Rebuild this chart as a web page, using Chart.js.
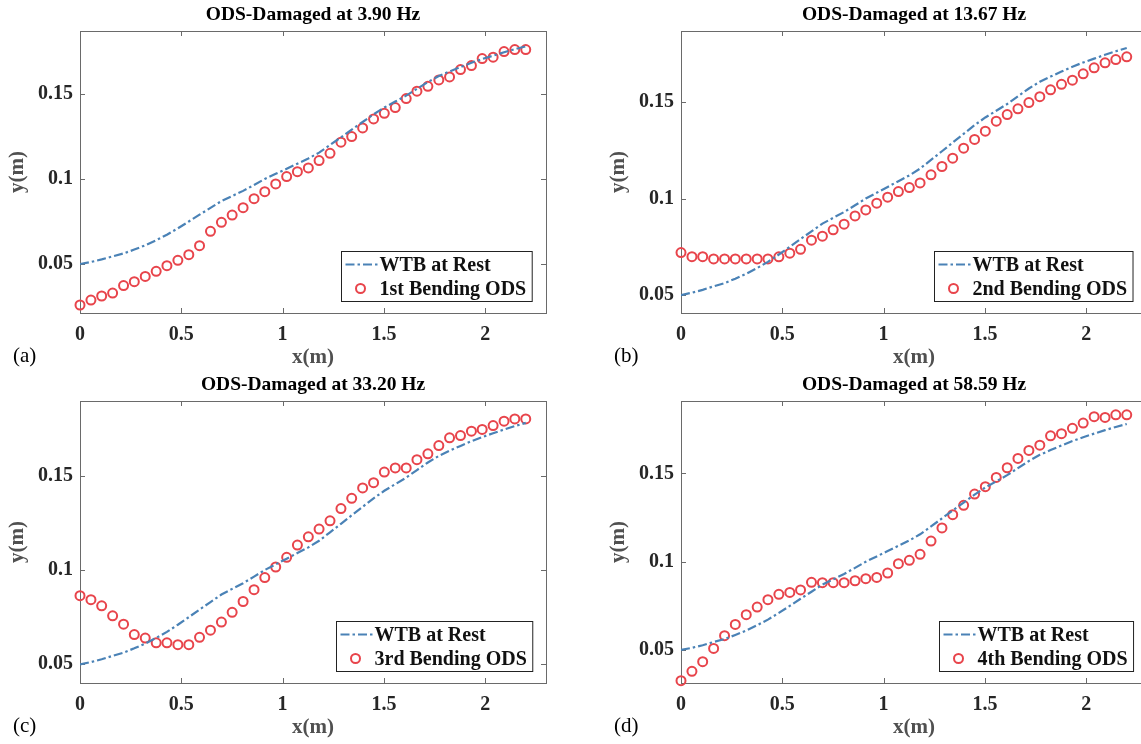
<!DOCTYPE html>
<html>
<head>
<meta charset="utf-8">
<script src="https://cdn.jsdelivr.net/npm/chart.js@4.4.1/dist/chart.umd.min.js"></script>
<style>
  html, body { margin: 0; padding: 0; background: #fff; overflow: hidden; width: 1141px; height: 744px; }
  canvas { position: absolute; }
</style>
</head>
<body>
<canvas id="pa" width="570" height="370" style="left:0;top:0"></canvas>
<canvas id="pb" width="570" height="370" style="left:601px;top:0"></canvas>
<canvas id="pc" width="570" height="370" style="left:0;top:370px"></canvas>
<canvas id="pd" width="570" height="370" style="left:601px;top:370px"></canvas>
<script>
// sensor positions along the blade (m)
const xPos = [0, 0.054, 0.107, 0.161, 0.215, 0.268, 0.322, 0.376, 0.429, 0.483, 0.537, 0.590, 0.644, 0.698,
  0.751, 0.805, 0.859, 0.912, 0.966, 1.020, 1.073, 1.127, 1.180, 1.234, 1.288, 1.341, 1.395, 1.449,
  1.502, 1.556, 1.610, 1.663, 1.717, 1.771, 1.824, 1.878, 1.932, 1.985, 2.039, 2.093, 2.146, 2.200];

const wtbRest = [0.0500, 0.0512, 0.0527, 0.0545, 0.0562, 0.0585, 0.0610, 0.0640, 0.0672, 0.0710, 0.0750, 0.0790,
  0.0830, 0.0870, 0.0900, 0.0930, 0.0965, 0.1000, 0.1030, 0.1060, 0.1090, 0.1120, 0.1155, 0.1200, 0.1245,
  0.1290, 0.1335, 0.1380, 0.1420, 0.1455, 0.1490, 0.1530, 0.1570, 0.1605, 0.1632, 0.1658, 0.1683, 0.1705,
  0.1725, 0.1745, 0.1763, 0.1780];

const odsA = [0.0259, 0.0288, 0.0312, 0.0329, 0.0373, 0.0396, 0.0427, 0.0457, 0.0490, 0.0522, 0.0555, 0.0608,
  0.0692, 0.0745, 0.0788, 0.0831, 0.0884, 0.0925, 0.0971, 0.1014, 0.1043, 0.1065, 0.1108, 0.1151, 0.1216,
  0.1249, 0.1300, 0.1353, 0.1386, 0.1420, 0.1473, 0.1516, 0.1545, 0.1582, 0.1600, 0.1643, 0.1667, 0.1708,
  0.1716, 0.1749, 0.1761, 0.1761];

const odsB = [0.0720, 0.0699, 0.0699, 0.0687, 0.0687, 0.0687, 0.0687, 0.0687, 0.0687, 0.0698, 0.0717, 0.0737,
  0.0784, 0.0805, 0.0838, 0.0867, 0.0910, 0.0941, 0.0976, 0.1007, 0.1036, 0.1057, 0.1081, 0.1123, 0.1166,
  0.1209, 0.1261, 0.1306, 0.1349, 0.1401, 0.1435, 0.1465, 0.1497, 0.1528, 0.1563, 0.1592, 0.1613, 0.1646,
  0.1677, 0.1703, 0.1720, 0.1734];

const odsC = [0.0864, 0.0843, 0.0810, 0.0757, 0.0713, 0.0658, 0.0639, 0.0614, 0.0614, 0.0604, 0.0604, 0.0643,
  0.0681, 0.0724, 0.0776, 0.0833, 0.0896, 0.0960, 0.1016, 0.1067, 0.1132, 0.1176, 0.1217, 0.1261, 0.1326,
  0.1380, 0.1435, 0.1463, 0.1519, 0.1541, 0.1541, 0.1585, 0.1616, 0.1660, 0.1701, 0.1713, 0.1736, 0.1745,
  0.1766, 0.1789, 0.1801, 0.1801];

const odsD = [0.0326, 0.0379, 0.0434, 0.0509, 0.0581, 0.0645, 0.0700, 0.0743, 0.0785, 0.0815, 0.0826, 0.0840,
  0.0883, 0.0881, 0.0881, 0.0881, 0.0892, 0.0904, 0.0911, 0.0936, 0.0989, 0.1008, 0.1042, 0.1117, 0.1191,
  0.1266, 0.1319, 0.1383, 0.1425, 0.1477, 0.1532, 0.1585, 0.1630, 0.1660, 0.1713, 0.1725, 0.1755, 0.1785,
  0.1821, 0.1817, 0.1832, 0.1832];

const titles = ["ODS-Damaged at 3.90 Hz", "ODS-Damaged at 13.67 Hz", "ODS-Damaged at 33.20 Hz", "ODS-Damaged at 58.59 Hz"];
const odsLabels = ["1st Bending ODS", "2nd Bending ODS", "3rd Bending ODS", "4th Bending ODS"];
const panelTags = ["(a)", "(b)", "(c)", "(d)"];
const yMins = [0.0212, 0.0407, 0.0401, 0.0313];
const yMaxs = [0.187, 0.1868, 0.1896, 0.191];
const xTicks = [0, 0.5, 1, 1.5, 2];
const xTickLabels = ["0", "0.5", "1", "1.5", "2"];
const yTicks = [0.05, 0.1, 0.15];
const yTickLabels = ["0.05", "0.1", "0.15"];
const restLabel = "WTB at Rest";

const SERIF = '"Liberation Serif", "Times New Roman", serif';
const BLUE = "#4a82b6";
const RED = "#e8444b";
const DASH = [9, 3, 2.5, 3];

// box + inward ticks like matlab
const framePlugin = {
  id: "frame",
  beforeDatasetsDraw(chart) {
    const { ctx, chartArea: ca, scales } = chart;
    ctx.save();
    ctx.strokeStyle = "#6a6a6a";
    ctx.lineWidth = 1;
    ctx.strokeRect(Math.round(ca.left) + 0.5, Math.round(ca.top) + 0.5,
      Math.round(ca.right - ca.left), Math.round(ca.bottom - ca.top));
    ctx.beginPath();
    xTicks.forEach(v => {
      const px = Math.round(scales.x.getPixelForValue(v)) + 0.5;
      ctx.moveTo(px, ca.bottom); ctx.lineTo(px, ca.bottom - 5);
      ctx.moveTo(px, ca.top); ctx.lineTo(px, ca.top + 5);
    });
    yTicks.forEach(v => {
      const py = Math.round(scales.y.getPixelForValue(v)) + 0.5;
      ctx.moveTo(ca.left, py); ctx.lineTo(ca.left + 5, py);
      ctx.moveTo(ca.right, py); ctx.lineTo(ca.right - 5, py);
    });
    ctx.stroke();
    ctx.restore();
  }
};

// title, panel tag and in-axes legend
const decorPlugin = {
  id: "decor",
  afterDraw(chart) {
    const { ctx, chartArea: ca } = chart;
    const o = chart.options.plugins.decor;
    ctx.save();
    ctx.fillStyle = "#000";
    ctx.textAlign = "center";
    ctx.textBaseline = "middle";
    ctx.font = "bold 19.5px " + SERIF;
    ctx.fillText(o.title, (ca.left + ca.right) / 2, 15);

    ctx.textAlign = "left";
    ctx.font = "21px " + SERIF;
    ctx.fillText(o.tag, 13, 356);

    ctx.font = "bold 20px " + SERIF;
    const tw = Math.max(ctx.measureText(restLabel).width, ctx.measureText(o.odsLabel).width);
    const w = 38 + tw + 6, h = 50;
    const r = ca.right - 14, b = ca.bottom - 12;
    const l = Math.round(r - w) + 0.5, t = Math.round(b - h) + 0.5;
    ctx.fillStyle = "#fff";
    ctx.fillRect(l, t, w, h);
    ctx.strokeStyle = "#222";
    ctx.lineWidth = 1;
    ctx.strokeRect(l, t, w, h);

    const y1 = t + 13, y2 = t + 37;
    ctx.strokeStyle = BLUE;
    ctx.lineWidth = 2.2;
    ctx.setLineDash(DASH);
    ctx.beginPath(); ctx.moveTo(l + 4, y1); ctx.lineTo(l + 36, y1); ctx.stroke();
    ctx.setLineDash([]);
    ctx.strokeStyle = RED;
    ctx.lineWidth = 2;
    ctx.beginPath(); ctx.arc(l + 19, y2, 4.5, 0, Math.PI * 2); ctx.stroke();

    ctx.fillStyle = "#111";
    ctx.fillText(restLabel, l + 38, y1 + 1);
    ctx.fillText(o.odsLabel, l + 38, y2 + 1);
    ctx.restore();
  }
};

function makePanel(id, i, ods) {
  const toPts = arr => arr.map((v, k) => ({ x: xPos[k], y: v }));
  return new Chart(document.getElementById(id), {
    type: "line",
    data: {
      datasets: [
        {
          label: restLabel,
          data: toPts(wtbRest),
          borderColor: BLUE,
          borderWidth: 2.2,
          borderDash: DASH,
          pointRadius: 0,
          fill: false
        },
        {
          label: odsLabels[i],
          data: toPts(ods),
          showLine: false,
          pointStyle: "circle",
          pointRadius: 4.5,
          pointBorderWidth: 2,
          borderColor: RED,
          backgroundColor: "rgba(0,0,0,0)",
          clip: false
        }
      ]
    },
    options: {
      responsive: false,
      animation: false,
      layout: { padding: { left: 0, right: 24, top: 31, bottom: 0 } },
      plugins: {
        legend: { display: false },
        tooltip: { enabled: false },
        decor: { title: titles[i], tag: panelTags[i], odsLabel: odsLabels[i] }
      },
      scales: {
        x: {
          type: "linear",
          min: 0,
          max: 2.3,
          grid: { display: false, drawTicks: false },
          border: { display: false },
          afterBuildTicks: s => { s.ticks = xTicks.map(v => ({ value: v })); },
          afterFit: s => { s.height = 57; },
          ticks: {
            padding: 10,
            maxRotation: 0,
            color: "#262626",
            font: { family: SERIF, size: 20, weight: "bold" },
            callback: (v, k) => xTickLabels[k]
          },
          title: {
            display: true,
            text: "x(m)",
            color: "#505050",
            font: { family: SERIF, size: 21, weight: "bold" },
            padding: { top: 0, bottom: 0 }
          }
        },
        y: {
          min: yMins[i],
          max: yMaxs[i],
          grid: { display: false, drawTicks: false },
          border: { display: false },
          afterBuildTicks: s => { s.ticks = yTicks.map(v => ({ value: v })); },
          afterFit: s => { s.width = 80; },
          ticks: {
            padding: 7,
            color: "#262626",
            font: { family: SERIF, size: 20, weight: "bold" },
            callback: (v, k) => yTickLabels[k]
          },
          title: {
            display: true,
            text: "y(m)",
            color: "#505050",
            font: { family: SERIF, size: 21, weight: "bold" },
            padding: { top: 5, bottom: 0 }
          }
        }
      }
    },
    plugins: [framePlugin, decorPlugin]
  });
}

makePanel("pa", 0, odsA);
makePanel("pb", 1, odsB);
makePanel("pc", 2, odsC);
makePanel("pd", 3, odsD);
</script>
</body>
</html>
